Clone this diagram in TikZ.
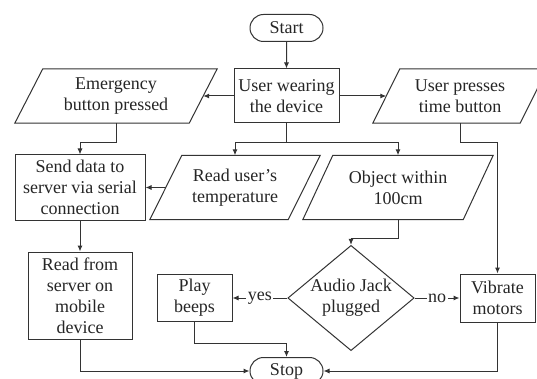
\documentclass[tikz,border=0pt]{standalone}
\usepackage{fontspec}
\setmainfont{Liberation Serif}
\usetikzlibrary{shapes.geometric,shapes.misc,arrows.meta}
\begin{document}
\begin{tikzpicture}[x=1pt,y=-1pt,
  every node/.style={font=\fontsize{18}{21}\selectfont, align=center, inner sep=0pt, text=black!85},
  ln/.style={line width=1pt, draw=black!80},
  arr/.style={ln, -{Latex[length=6pt,width=5pt]}},
  procbox/.style={rectangle, ln, draw},
  termbox/.style={rounded rectangle, ln, draw, minimum width=73pt, minimum height=27pt},
  iobox/.style={rectangle, draw=none},
  decbox/.style={diamond, ln, draw, aspect=1.2, minimum width=118pt, minimum height=98pt},
  lbl/.style={fill=white, inner sep=1.5pt}
]
\useasboundingbox (0,0) rectangle (537,379);
\clip (0,0) rectangle (537,379);
\fill[white] (0,0) rectangle (537,379);

% nodes
\node[termbox] (start) at (286.5,28) {Start};
\node[procbox, minimum width=105pt, minimum height=54pt] (user) at (286.5,96) {User wearing\\the device};
\node[iobox, minimum width=174pt, minimum height=54pt] (emerg) at (116,96) {Emergency\\button pressed};
\node[iobox, minimum width=147pt, minimum height=54pt] (press) at (460,96) {User presses\\time button};
\node[procbox, minimum width=130pt, minimum height=65pt] (send) at (80,187.5) {Send data to\\server via serial\\connection};
\node[iobox, minimum width=138pt, minimum height=64pt] (temp) at (235,187.5) {Read user's\\temperature};
\node[iobox, minimum width=160pt, minimum height=64pt] (obj) at (398,187.5) {Object within\\100cm};
\node[procbox, minimum width=104pt, minimum height=87pt] (read) at (80,295.5) {Read from\\server on\\mobile\\device};
\node[procbox, minimum width=75pt, minimum height=47pt] (beeps) at (194.5,298) {Play\\beeps};
\node[decbox] (jack) at (351,298) {Audio Jack\\plugged};
\node[procbox, minimum width=75pt, minimum height=48pt] (vib) at (497.5,298) {Vibrate\\motors};
\node[termbox] (stop) at (286.5,371) {Stop};

% parallelogram outlines
\draw[ln] ([xshift=14pt]emerg.north west) -- ([xshift=14pt]emerg.north east) -- ([xshift=-14pt]emerg.south east) -- ([xshift=-14pt]emerg.south west) -- cycle;
\draw[ln] ([xshift=13.5pt]press.north west) -- ([xshift=13.5pt]press.north east) -- ([xshift=-13.5pt]press.south east) -- ([xshift=-13.5pt]press.south west) -- cycle;
\draw[ln] ([xshift=16pt]temp.north west) -- ([xshift=16pt]temp.north east) -- ([xshift=-16pt]temp.south east) -- ([xshift=-16pt]temp.south west) -- cycle;
\draw[ln] ([xshift=15pt]obj.north west) -- ([xshift=15pt]obj.north east) -- ([xshift=-15pt]obj.south east) -- ([xshift=-15pt]obj.south west) -- cycle;

% connectors
\draw[arr] (start) -- (user);
\draw[arr] (user.west) -- (emerg.east);
\draw[arr] (user.east) -- (press.west);
\draw[arr] (user.south) -- ++(0,19) -| (temp.north);
\draw[arr] (user.south) -- ++(0,19) -| (obj.north);
\draw[arr] (emerg.south) -- ++(0,19) -| (send.north);
\draw[arr] (temp.west) -- (send.east);
\draw[arr] (send) -- (read);
\draw[arr] (obj.south) -- ++(0,19) -| (jack.north);
\draw[arr] (jack.west) -- node[lbl] {yes} (beeps.east);
\draw[arr] (jack.east) -- node[lbl] {no} (vib.west);
\draw[arr] (press.south) -- ++(0,19) -| (vib.north);
\draw[arr] (read.south) |- (stop.west);
\draw[arr] (beeps.south) -- ++(0,21) -| (stop.north);
\draw[arr] (vib.south) |- (stop.east);
\end{tikzpicture}
\end{document}
